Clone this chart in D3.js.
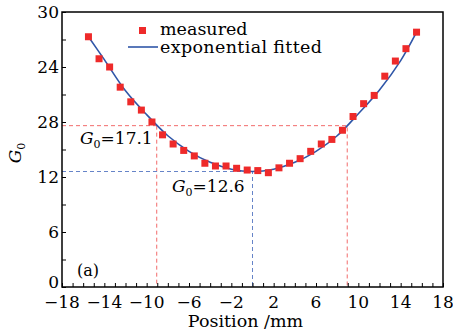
<!DOCTYPE html>
<html>
<head>
<meta charset="utf-8">
<script src="https://cdn.jsdelivr.net/npm/d3@7"></script>
<style>
  body { margin: 0; background: #fff; }
  text { font-family: "DejaVu Serif", serif; fill: #000; }
</style>
</head>
<body>
<svg id="chart" width="453" height="336"></svg>
<script>
// measured points (position mm, G0)
var posX = [-15.5, -14.5, -13.5, -12.5, -11.5, -10.5, -9.5, -8.5, -7.5, -6.5, -5.5, -4.5, -3.5, -2.5, -1.5, -0.5,
            0.5, 1.5, 2.5, 3.5, 4.5, 5.5, 6.5, 7.5, 8.5, 9.5, 10.5, 11.5, 12.5, 13.5, 14.5, 15.5];
var measured = [27.3, 24.9, 24.0, 21.8, 20.2, 19.3, 18.0, 16.6, 15.6, 14.9, 14.3, 13.5, 13.2, 13.2, 12.95, 12.76,
                12.7, 12.47, 13.0, 13.5, 14.0, 14.8, 15.6, 16.1, 17.1, 18.6, 20.0, 20.9, 23.0, 24.65, 26.0, 27.8];
// fitted curve
var fitX = [-15.5, -14, -12, -10, -8, -6, -4, -2, 0, 2, 4, 6, 8, 10, 12, 14, 15.5];
var fitY = [27.3, 24.8, 21.4, 18.8, 16.5, 14.8, 13.6, 12.85, 12.6, 12.85, 13.6, 14.8, 16.5, 18.9, 21.5, 24.7, 27.8];
// x tick labels and y tick labels (as printed)
var xTickVals = [-18, -14, -10, -6, -2, 2, 6, 10, 14, 18];
var yTickVals = [0, 6, 12, 18, 24, 30];
var yTickText = ['0', '6', '12', '28', '24', '30'];
// guide lines
var redGuide = { xl: -9.05, xr: 8.95, y: 17.6, label: '17.1' };
var blueGuide = { x: 0, y: 12.6, label: '12.6' };

var svg = d3.select('#chart'),
    m = { l: 62, r: 10, t: 12, b: 49 },
    W = 453, H = 336,
    x = d3.scaleLinear().domain([-18, 18]).range([m.l, W - m.r]),
    y = d3.scaleLinear().domain([0, 30]).range([H - m.b, m.t]);

var red = '#ee2a2a', blue = '#2f56a8';

// guides
var g = svg.append('g').attr('fill', 'none').attr('stroke-width', 1).attr('stroke-dasharray', '4,3');
g.append('path').attr('stroke', '#f26b6b')
  .attr('d', 'M' + x(-18) + ',' + y(redGuide.y) + 'H' + x(redGuide.xr) + 'V' + y(0)
    + 'M' + x(redGuide.xl) + ',' + y(redGuide.y) + 'V' + y(0));
g.append('path').attr('stroke', '#6684c8')
  .attr('d', 'M' + x(-18) + ',' + y(blueGuide.y) + 'H' + x(blueGuide.x) + 'V' + y(0));

// fitted line
var fit = fitX.map(function(d, i) { return [d, fitY[i]]; });
svg.append('path').datum(fit)
  .attr('fill', 'none').attr('stroke', blue).attr('stroke-width', 1.6)
  .attr('d', d3.line().curve(d3.curveCatmullRom).x(function(d) { return x(d[0]); }).y(function(d) { return y(d[1]); }));

// points
svg.append('g').selectAll('rect').data(posX).enter().append('rect')
  .attr('x', function(d) { return x(d) - 3.5; })
  .attr('y', function(d, i) { return y(measured[i]) - 3.5; })
  .attr('width', 7).attr('height', 7).attr('fill', red);

// axes (inward ticks)
svg.append('g').attr('transform', 'translate(0,' + y(0) + ')')
  .call(d3.axisBottom(x).tickValues(d3.range(-18, 19, 1)).tickSizeInner(-4).tickSizeOuter(0).tickFormat(''));
svg.append('g').attr('transform', 'translate(' + x(-18) + ',0)')
  .call(d3.axisLeft(y).tickValues(d3.range(0, 31, 3)).tickSizeInner(-4).tickSizeOuter(0).tickFormat(''));
svg.selectAll('.domain').remove();
svg.selectAll('.tick line').attr('stroke', '#000').attr('stroke-width', 1);

// frame
svg.append('rect').attr('x', x(-18)).attr('y', y(30))
  .attr('width', x(18) - x(-18)).attr('height', y(0) - y(30))
  .attr('fill', 'none').attr('stroke', '#000').attr('stroke-width', 1.5);

// tick labels
svg.append('g').selectAll('text').data(xTickVals).enter().append('text')
  .attr('x', function(d) { return x(d); }).attr('y', y(0) + 21)
  .attr('text-anchor', 'middle').style('font-size', '17px')
  .text(function(d) { return d < 0 ? '\u2212' + (-d) : d; });
svg.append('g').selectAll('text').data(yTickVals).enter().append('text')
  .attr('x', x(-18) - 3).attr('y', function(d) { return y(d) + (d === 0 ? 1 : 6); })
  .attr('text-anchor', 'end').style('font-size', '17px')
  .text(function(d, i) { return yTickText[i]; });

// axis titles
svg.append('text').attr('x', (x(-18) + x(18)) / 2 - 7).attr('y', 327)
  .attr('text-anchor', 'middle').style('font-size', '17.5px').text('Position /mm');
var yt = svg.append('text').attr('transform', 'translate(21,153) rotate(-90)')
  .attr('text-anchor', 'middle').style('font-size', '17px');
yt.append('tspan').style('font-style', 'italic').text('G');
yt.append('tspan').attr('dy', 4).style('font-size', '11px').text('0');

// annotations
function gLabel(px, py, val) {
  var t = svg.append('text').attr('x', px).attr('y', py).style('font-size', '17px');
  t.append('tspan').style('font-style', 'italic').text('G');
  t.append('tspan').attr('dy', 4).style('font-size', '11px').text('0');
  t.append('tspan').attr('dy', -4).text('=' + val);
}
gLabel(80, 144, redGuide.label);
gLabel(172, 192, blueGuide.label);

svg.append('text').attr('x', 77).attr('y', 276).style('font-size', '16px').text('(a)');

// legend
svg.append('rect').attr('x', 139).attr('y', 27).attr('width', 7).attr('height', 7).attr('fill', red);
svg.append('text').attr('x', 160).attr('y', 35).style('font-size', '17.5px').text('measured');
svg.append('line').attr('x1', 128).attr('x2', 158).attr('y1', 47).attr('y2', 47)
  .attr('stroke', blue).attr('stroke-width', 1.6);
svg.append('text').attr('x', 160).attr('y', 53).style('font-size', '17.5px')
  .attr('textLength', 162).text('exponential fitted');
</script>
</body>
</html>
